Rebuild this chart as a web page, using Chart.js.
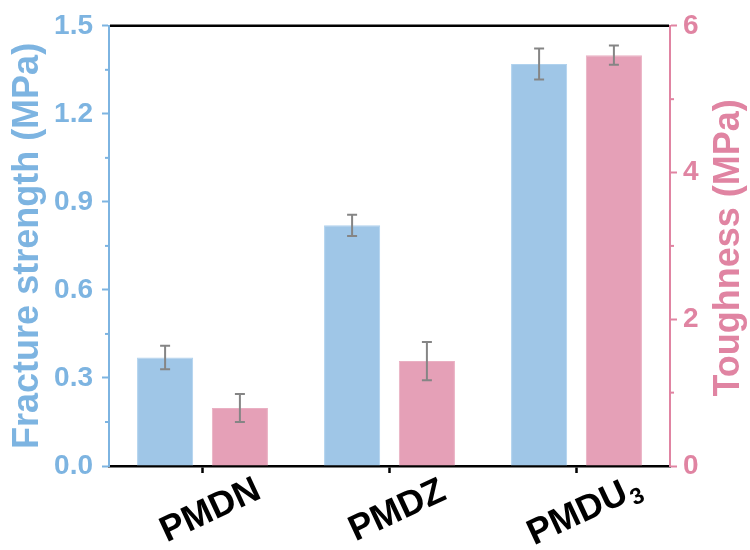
<!DOCTYPE html>
<html>
<head>
<meta charset="utf-8">
<script src="https://cdn.jsdelivr.net/npm/chart.js@4.4.0/dist/chart.umd.min.js"></script>
<style>
  body { margin: 0; background: #fff; }
  #wrap { width: 750px; height: 550px; }
</style>
</head>
<body>
<div id="wrap"><canvas id="barChart" width="750" height="550"></canvas></div>
<script>
const categories = ['PMDN', 'PMDZ', 'PMDU3'];
const strength = [0.37, 0.82, 1.37];
const strengthErr = [0.04, 0.036, 0.053];
const toughness = [0.79, 1.43, 5.60];
const toughnessErr = [0.19, 0.26, 0.13];
const strengthTicks = [0, 0.3, 0.6, 0.9, 1.2, 1.5];
const toughnessTicks = [0, 2, 4, 6];

const BLUE = '#7db4e1';
const PINK = '#e084a2';
const FONT = '"Liberation Sans", Arial, sans-serif';

// error bars drawn on top of each bar, positioned by the bar's own y axis
const errorBars = {
    id: 'errorBars',
    afterDatasetsDraw(chart) {
        const ctx = chart.ctx;
        ctx.save();
        ctx.strokeStyle = '#858585';
        ctx.lineWidth = 2;
        chart.data.datasets.forEach((ds, i) => {
            const scale = chart.scales[ds.yAxisID];
            chart.getDatasetMeta(i).data.forEach((bar, j) => {
                const v = ds.data[j], e = ds.errors[j];
                const top = scale.getPixelForValue(v + e);
                const bot = scale.getPixelForValue(v - e);
                ctx.beginPath();
                ctx.moveTo(bar.x, top); ctx.lineTo(bar.x, bot);
                ctx.moveTo(bar.x - 5, top); ctx.lineTo(bar.x + 5, top);
                ctx.moveTo(bar.x - 5, bot); ctx.lineTo(bar.x + 5, bot);
                ctx.stroke();
            });
        });
        ctx.restore();
    }
};

// frame top line, minor ticks, right-hand title and the tilted category names
const decorations = {
    id: 'decorations',
    afterDraw(chart) {
        const ctx = chart.ctx;
        const area = chart.chartArea;
        ctx.save();
        ctx.strokeStyle = '#000';
        ctx.lineWidth = 2.5;
        ctx.beginPath();
        ctx.moveTo(area.left + 1, area.top);
        ctx.lineTo(area.right - 1, area.top);
        ctx.stroke();

        const y = chart.scales.y, y1 = chart.scales.y1;
        ctx.lineWidth = 2;
        ctx.strokeStyle = BLUE;
        for (let k = 0; k < strengthTicks.length - 1; k++) {
            const p = y.getPixelForValue((strengthTicks[k] + strengthTicks[k + 1]) / 2);
            ctx.beginPath(); ctx.moveTo(area.left - 4, p); ctx.lineTo(area.left, p); ctx.stroke();
        }
        ctx.strokeStyle = PINK;
        for (let k = 0; k < toughnessTicks.length - 1; k++) {
            const p = y1.getPixelForValue((toughnessTicks[k] + toughnessTicks[k + 1]) / 2);
            ctx.beginPath(); ctx.moveTo(area.right, p); ctx.lineTo(area.right + 4, p); ctx.stroke();
        }

        // right axis title reads bottom-to-top
        ctx.save();
        ctx.translate(729, (y1.top + y1.bottom) / 2 + 2);
        ctx.rotate(-Math.PI / 2);
        ctx.font = 'bold 36px ' + FONT;
        ctx.fillStyle = PINK;
        ctx.textAlign = 'center';
        ctx.textBaseline = 'middle';
        ctx.fillText('Toughness (MPa)', 0, 0);
        ctx.restore();

        const x = chart.scales.x;
        ctx.fillStyle = '#000';
        ctx.textBaseline = 'middle';
        ctx.textAlign = 'left';
        categories.forEach((name, i) => {
            const m = name.match(/^(.*?)(\d*)$/);
            const main = m[1], sub = m[2];
            ctx.font = 'bold 36px ' + FONT;
            const wMain = ctx.measureText(main).width;
            ctx.font = 'bold 23px ' + FONT;
            const wSub = sub ? ctx.measureText(sub).width + 2 : 0;
            const total = wMain + wSub;
            ctx.save();
            ctx.translate(x.getPixelForValue(i) + 8, 511);
            ctx.rotate(-25 * Math.PI / 180);
            ctx.font = 'bold 36px ' + FONT;
            ctx.fillText(main, -total / 2, 0);
            if (sub) {
                ctx.font = 'bold 23px ' + FONT;
                ctx.fillText(sub, -total / 2 + wMain + 2, 10);
            }
            ctx.restore();
        });
        ctx.restore();
    }
};

new Chart(document.getElementById('barChart'), {
    type: 'bar',
    data: {
        labels: categories,
        datasets: [{
            label: 'Fracture strength',
            data: strength,
            errors: strengthErr,
            yAxisID: 'y',
            backgroundColor: '#9fc6e7',
            borderColor: '#b0d2ee',
            borderWidth: 1,
            categoryPercentage: 0.8,
            barPercentage: 0.75
        }, {
            label: 'Toughness',
            data: toughness,
            errors: toughnessErr,
            yAxisID: 'y1',
            backgroundColor: '#e5a0b7',
            borderColor: '#eab0c3',
            borderWidth: 1,
            categoryPercentage: 0.8,
            barPercentage: 0.75
        }]
    },
    options: {
        responsive: false,
        animation: false,
        layout: { padding: { top: 25, left: 0, right: 0, bottom: 0 } },
        plugins: {
            legend: { display: false },
            tooltip: { enabled: false }
        },
        scales: {
            x: {
                offset: true,
                grid: {
                    offset: false,
                    drawOnChartArea: false,
                    tickLength: 7,
                    tickColor: '#000',
                    tickWidth: 2.5
                },
                border: { color: '#000', width: 2.5 },
                ticks: { display: false },
                afterFit: s => { s.height = 84; }
            },
            y: {
                position: 'left',
                min: 0,
                max: 1.5,
                afterBuildTicks: s => { s.ticks = strengthTicks.map(v => ({ value: v })); },
                ticks: {
                    color: BLUE,
                    padding: 9,
                    font: { family: FONT, size: 28, weight: 'bold' },
                    callback: v => v.toFixed(1)
                },
                grid: { drawOnChartArea: false, tickLength: 7, tickColor: BLUE, tickWidth: 2 },
                border: { color: BLUE, width: 2 },
                title: {
                    display: true,
                    text: 'Fracture strength (MPa)',
                    color: BLUE,
                    font: { family: FONT, size: 36, weight: 'bold' },
                    padding: { top: 6, bottom: 0 }
                },
                afterFit: s => { s.width = 109; }
            },
            y1: {
                position: 'right',
                min: 0,
                max: 6,
                afterBuildTicks: s => { s.ticks = toughnessTicks.map(v => ({ value: v })); },
                ticks: {
                    color: PINK,
                    padding: 6,
                    font: { family: FONT, size: 28, weight: 'bold' },
                    callback: v => String(v)
                },
                grid: { drawOnChartArea: false, tickLength: 7, tickColor: PINK, tickWidth: 2 },
                border: { color: PINK, width: 2 },
                afterFit: s => { s.width = 80; }
            }
        }
    },
    plugins: [errorBars, decorations]
});
</script>
</body>
</html>
